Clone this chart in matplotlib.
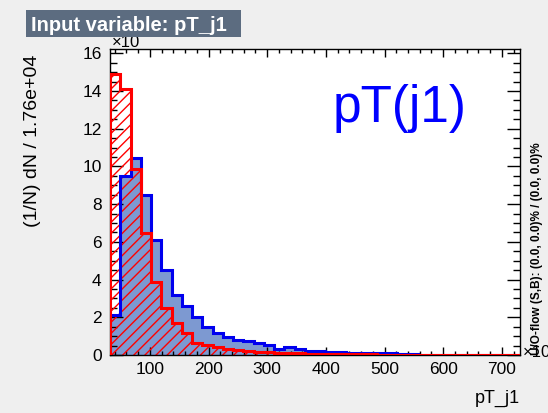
import numpy as np
import matplotlib
matplotlib.use("Agg")
import matplotlib.pyplot as plt
from matplotlib.ticker import MultipleLocator
from matplotlib.patches import Rectangle

plt.rcParams['font.family'] = ['Liberation Sans', 'DejaVu Sans']
plt.rcParams['hatch.linewidth'] = 1.0

# binning of the input variable
x_min, x_max, n_bins = 32.0, 731.0, 40

# signal (blue, filled) and background (red, hatched), in units of 1e-3
signal = [2.13, 9.51, 10.45, 8.48, 6.08, 4.50, 3.20, 2.61, 2.00, 1.51,
          1.19, 0.98, 0.80, 0.73, 0.66, 0.53, 0.30, 0.41, 0.30, 0.23,
          0.23, 0.16, 0.16, 0.12, 0.12, 0.12, 0.08, 0.08, 0.04, 0.03,
          0.02, 0.02, 0.01, 0.01, 0.01, 0.005, 0.005, 0.0, 0.0, 0.0]
background = [14.9, 14.1, 9.87, 6.49, 3.86, 2.50, 1.72, 1.16, 0.66, 0.53,
              0.44, 0.32, 0.27, 0.23, 0.18, 0.14, 0.12, 0.10, 0.08, 0.07,
              0.06, 0.05, 0.04, 0.04, 0.03, 0.03, 0.02, 0.02, 0.02, 0.01,
              0.01, 0.01, 0.01, 0.01, 0.005, 0.005, 0.005, 0.005, 0.005, 0.005]

title = "Input variable: pT_j1"
var_label = "pT(j1)"
x_label = "pT_j1"
y_label = "(1/N) dN / 1.76e+04"
flow_text = "U/O-flow (S,B): (0.0, 0.0)% / (0.0, 0.0)%"

edges = np.linspace(x_min, x_max, n_bins + 1)

W, H = 548, 413
fig = plt.figure(figsize=(W / 100, H / 100), dpi=100)
fig.patch.set_facecolor('#efefef')
ax = fig.add_axes([110/W, 1 - 355/H, 410/W, (355 - 49.3)/H])

# signal: filled
ax.stairs(signal, edges, fill=True, color='#7d99d1', lw=0, zorder=1)
ax.stairs(signal, edges, color='#0000ee', lw=2.2, zorder=3)
# background: hatched
ax.stairs(background, edges, fill=True, facecolor='none', edgecolor='#ff0000',
          hatch='///', lw=0, zorder=2)
ax.stairs(background, edges, color='#ff0000', lw=2.2, zorder=4)

ax.set_xlim(x_min, x_max)
ax.set_ylim(0, 16.21)
ax.xaxis.set_major_locator(MultipleLocator(100))
ax.xaxis.set_minor_locator(MultipleLocator(20))
ax.yaxis.set_major_locator(MultipleLocator(2))
ax.yaxis.set_minor_locator(MultipleLocator(0.5))
ax.tick_params(which='both', direction='in', top=True, right=True, width=1,
               labelsize=12.5)
ax.tick_params(axis='x', which='major', length=6, pad=5)
ax.tick_params(axis='x', which='minor', length=3)
ax.tick_params(axis='y', which='major', length=9.5, pad=6)
ax.tick_params(axis='y', which='minor', length=5)
for s in ax.spines.values():
    s.set_linewidth(1)

ax.text(0.544, 0.762, var_label, transform=ax.transAxes, color='#0000ff',
        fontsize=37, ha='left', va='baseline')

fig.text(520/W, 1 - 403/H, x_label, ha='right', va='baseline', fontsize=13)
fig.text(33/W, 1 - 55/H, y_label, rotation=90, ha='center', va='top',
         fontsize=14)
fig.text(537/W, 1 - 355/H, flow_text, rotation=90, ha='center',
         va='bottom', fontsize=8.5, fontweight='bold')

# exponent labels, partly hidden as in the original
fig.text(112/W, 1 - 47/H, "\u00d710", ha='left', va='baseline', fontsize=12)
fig.text(523/W, 1 - 357/H, "\u00d710", ha='left', va='baseline', fontsize=12)

# title box
fig.patches.append(Rectangle((26/W, 1 - 37/H), 215/W, 27/H,
                             transform=fig.transFigure, facecolor='#5c6c80',
                             edgecolor='none', zorder=9))
fig.text(31/W, 1 - 31/H, title, ha='left', va='baseline', fontsize=14.5,
         fontweight='bold', color='white', zorder=10)

fig.savefig("out.png", dpi=100, facecolor=fig.get_facecolor())
